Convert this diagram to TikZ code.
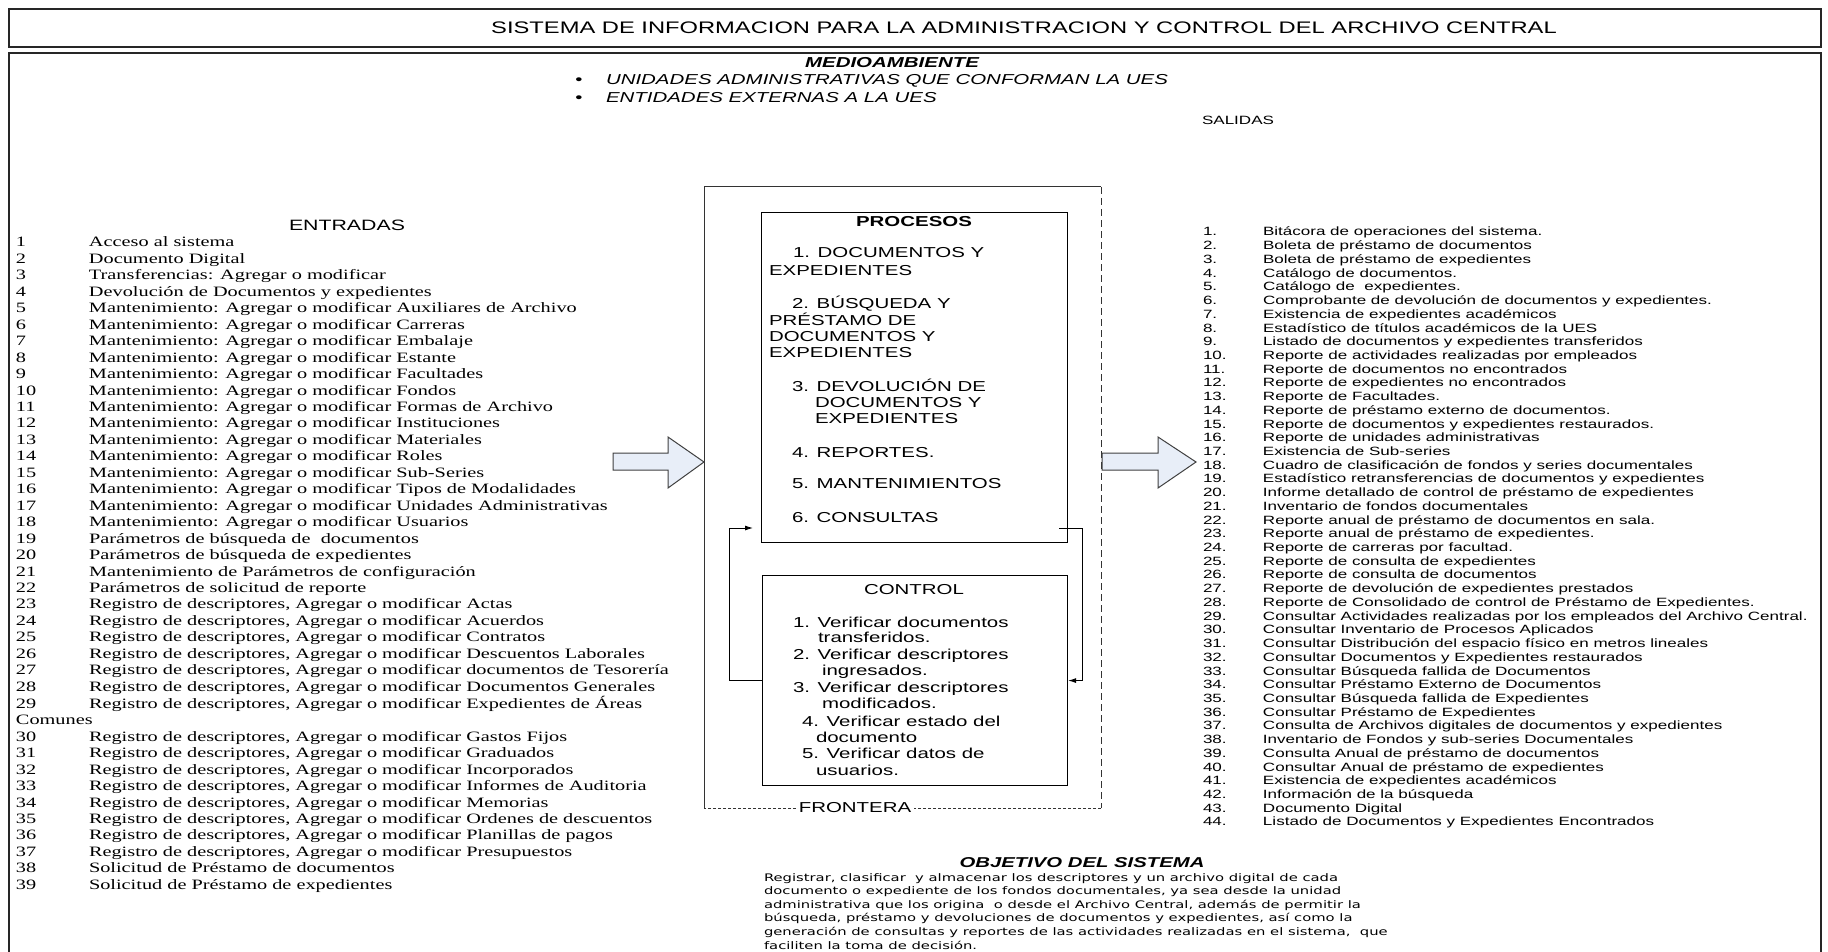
\documentclass[tikz,border=0pt]{standalone}
\usepackage{fontspec}
\setmainfont{Liberation Serif}[FakeStretch=1.42]
\newfontfamily\arial{Liberation Sans}[FakeStretch=1.42]
\newfontfamily\parafont{DejaVu Sans}[FakeStretch=1.42]
\usetikzlibrary{arrows.meta}
\definecolor{arrowfill}{RGB}{232,238,248}
\newcommand\boxfont{\arial\fontsize{14.4}{16}\selectfont}
\tikzset{
  lbl/.style={inner sep=0pt, outer sep=0pt, font=\boxfont},
  framebox/.style={draw=black, line width=1.1pt},
  flow/.style={line width=0.9pt, -{Latex[length=8pt,width=5pt]}},
  bigarrow/.style={draw=black!75, line width=1pt, fill=arrowfill},
}
\begin{document}
\begin{tikzpicture}[x=1pt,y=-1pt]
\useasboundingbox (0,0) rectangle (1828,952);
\clip (0,0) rectangle (1828,952);

% outer frames
\draw[line width=1.5pt, draw=black!85] (9,9) rectangle (1821,47);
\draw[line width=1.5pt, draw=black!85] (9,53) rectangle (1821,1000);

\node[lbl, anchor=base, font={\arial\fontsize{16.7}{20}\selectfont}] (title) at (1024,34)
  {SISTEMA DE INFORMACION PARA LA ADMINISTRACION Y CONTROL DEL ARCHIVO CENTRAL};

% environment
\node[lbl, anchor=base, font={\arial\bfseries\itshape\fontsize{14.4}{16}\selectfont}] (medio) at (892,68) {MEDIOAMBIENTE};
\node[lbl, anchor=base] (b1) at (579,85) {•};
\node[lbl, anchor=base west, font={\arial\itshape\fontsize{14.4}{16}\selectfont}] (m1) at (606,85) {UNIDADES ADMINISTRATIVAS QUE CONFORMAN LA UES};
\node[lbl, anchor=base] (b2) at (579,103) {•};
\node[lbl, anchor=base west, font={\arial\itshape\fontsize{14.4}{16}\selectfont}] (m2) at (606,103) {ENTIDADES EXTERNAS A LA UES};

\node[lbl, anchor=base, font={\arial\fontsize{12}{14}\selectfont}] (salidas) at (1238,125) {SALIDAS};
\node[lbl, anchor=base, font={\arial\fontsize{15}{17}\selectfont}] (entradas) at (347,230) {ENTRADAS};

% inputs
\node[lbl, anchor=base west, font={\rmfamily\fontsize{14.3}{16.45}\selectfont}] (inlist) at (16,247) {%
\begin{tabular}[t]{@{}p{73pt}@{}l@{}}
1 & Acceso al sistema\\
2 & Documento Digital\\
3 & Transferencias: Agregar o modificar\\
4 & Devolución de Documentos y expedientes\\
5 & Mantenimiento: Agregar o modificar Auxiliares de Archivo\\
6 & Mantenimiento: Agregar o modificar Carreras\\
7 & Mantenimiento: Agregar o modificar Embalaje\\
8 & Mantenimiento: Agregar o modificar Estante\\
9 & Mantenimiento: Agregar o modificar Facultades\\
10 & Mantenimiento: Agregar o modificar Fondos\\
11 & Mantenimiento: Agregar o modificar Formas de Archivo\\
12 & Mantenimiento: Agregar o modificar Instituciones\\
13 & Mantenimiento: Agregar o modificar Materiales\\
14 & Mantenimiento: Agregar o modificar Roles\\
15 & Mantenimiento: Agregar o modificar Sub-Series\\
16 & Mantenimiento: Agregar o modificar Tipos de Modalidades\\
17 & Mantenimiento: Agregar o modificar Unidades Administrativas\\
18 & Mantenimiento: Agregar o modificar Usuarios\\
19 & Parámetros de búsqueda de~ documentos\\
20 & Parámetros de búsqueda de expedientes\\
21 & Mantenimiento de Parámetros de configuración\\
22 & Parámetros de solicitud de reporte\\
23 & Registro de descriptores, Agregar o modificar Actas\\
24 & Registro de descriptores, Agregar o modificar Acuerdos\\
25 & Registro de descriptores, Agregar o modificar Contratos\\
26 & Registro de descriptores, Agregar o modificar Descuentos Laborales\\
27 & Registro de descriptores, Agregar o modificar documentos de Tesorería\\
28 & Registro de descriptores, Agregar o modificar Documentos Generales\\
29 & Registro de descriptores, Agregar o modificar Expedientes de Áreas\\
\multicolumn{2}{@{}l@{}}{Comunes}\\
30 & Registro de descriptores, Agregar o modificar Gastos Fijos\\
31 & Registro de descriptores, Agregar o modificar Graduados\\
32 & Registro de descriptores, Agregar o modificar Incorporados\\
33 & Registro de descriptores, Agregar o modificar Informes de Auditoria\\
34 & Registro de descriptores, Agregar o modificar Memorias\\
35 & Registro de descriptores, Agregar o modificar Ordenes de descuentos\\
36 & Registro de descriptores, Agregar o modificar Planillas de pagos\\
37 & Registro de descriptores, Agregar o modificar Presupuestos\\
38 & Solicitud de Préstamo de documentos\\
39 & Solicitud de Préstamo de expedientes
\end{tabular}};

% outputs
\node[lbl, anchor=base west, font={\arial\fontsize{12}{13.72}\selectfont}] (outlist) at (1203,236) {%
\begin{tabular}[t]{@{}p{60pt}@{}l@{}}
1. & Bitácora de operaciones del sistema.\\
2. & Boleta de préstamo de documentos\\
3. & Boleta de préstamo de expedientes\\
4. & Catálogo de documentos.\\
5. & Catálogo de~ expedientes.\\
6. & Comprobante de devolución de documentos y expedientes.\\
7. & Existencia de expedientes académicos\\
8. & Estadístico de títulos académicos de la UES\\
9. & Listado de documentos y expedientes transferidos\\
10. & Reporte de actividades realizadas por empleados\\
11. & Reporte de documentos no encontrados\\
12. & Reporte de expedientes no encontrados\\
13. & Reporte de Facultades.\\
14. & Reporte de préstamo externo de documentos.\\
15. & Reporte de documentos y expedientes restaurados.\\
16. & Reporte de unidades administrativas\\
17. & Existencia de Sub-series\\
18. & Cuadro de clasificación de fondos y series documentales\\
19. & Estadístico retransferencias de documentos y expedientes\\
20. & Informe detallado de control de préstamo de expedientes\\
21. & Inventario de fondos documentales\\
22. & Reporte anual de préstamo de documentos en sala.\\
23. & Reporte anual de préstamo de expedientes.\\
24. & Reporte de carreras por facultad.\\
25. & Reporte de consulta de expedientes\\
26. & Reporte de consulta de documentos\\
27. & Reporte de devolución de expedientes prestados\\
28. & Reporte de Consolidado de control de Préstamo de Expedientes.\\
29. & Consultar Actividades realizadas por los empleados del Archivo Central.\\
30. & Consultar Inventario de Procesos Aplicados\\
31. & Consultar Distribución del espacio físico en metros lineales\\
32. & Consultar Documentos y Expedientes restaurados\\
33. & Consultar Búsqueda fallida de Documentos\\
34. & Consultar Préstamo Externo de Documentos\\
35. & Consultar Búsqueda fallida de Expedientes\\
36. & Consultar Préstamo de Expedientes\\
37. & Consulta de Archivos digitales de documentos y expedientes\\
38. & Inventario de Fondos y sub-series Documentales\\
39. & Consulta Anual de préstamo de documentos\\
40. & Consultar Anual de préstamo de expedientes\\
41. & Existencia de expedientes académicos\\
42. & Información de la búsqueda\\
43. & Documento Digital\\
44. & Listado de Documentos y Expedientes Encontrados
\end{tabular}};

% system boundary
\coordinate (fNW) at (704,187);
\coordinate (fNE) at (1101,187);
\coordinate (fSE) at (1101,808);
\coordinate (fSW) at (704,808);
\draw[line width=1pt, draw=black!80] (fSW) -- (fNW) -- (fNE);
\draw[line width=1pt, draw=black!80, dash pattern=on 7pt off 4pt] (fNE) -- (fSE);
\draw[line width=1pt, draw=black!80, dash pattern=on 3pt off 2pt] (fSE) -- (fSW);
\node[lbl, fill=white, inner xsep=3pt] (frontera) at (855,808) {FRONTERA};

% input / output arrows
\draw[bigarrow] (613,453) -- (668,453) -- (668,437) -- (704,462) -- (668,488) -- (668,470) -- (613,470) -- cycle;
\draw[bigarrow] (1102,453) -- (1158,453) -- (1158,437) -- (1196,462) -- (1158,488) -- (1158,470) -- (1102,470) -- cycle;

% processes
\node[framebox, minimum width=306pt, minimum height=330pt, anchor=north west, inner sep=0pt] (procesos) at (761,212) {};
\node[lbl, anchor=base, font={\arial\bfseries\fontsize{14.4}{16}\selectfont}] (ptitle) at (914,226) {PROCESOS};
\node[lbl, anchor=base west] (p1a) at (793,258) {1. DOCUMENTOS Y};
\node[lbl, anchor=base west] (p1b) at (769,275) {EXPEDIENTES};
\node[lbl, anchor=base west] (p2a) at (792,308) {2. BÚSQUEDA Y};
\node[lbl, anchor=base west] (p2b) at (769,325) {PRÉSTAMO DE};
\node[lbl, anchor=base west] (p2c) at (769,341) {DOCUMENTOS Y};
\node[lbl, anchor=base west] (p2d) at (769,357) {EXPEDIENTES};
\node[lbl, anchor=base west] (p3a) at (792,391) {3. DEVOLUCIÓN DE};
\node[lbl, anchor=base west] (p3b) at (815,407) {DOCUMENTOS Y};
\node[lbl, anchor=base west] (p3c) at (815,423) {EXPEDIENTES};
\node[lbl, anchor=base west] (p4) at (792,457) {4. REPORTES.};
\node[lbl, anchor=base west] (p5) at (792,488) {5. MANTENIMIENTOS};
\node[lbl, anchor=base west] (p6) at (792,522) {6. CONSULTAS};

% control
\node[framebox, minimum width=305pt, minimum height=210pt, anchor=north west, inner sep=0pt] (control) at (762,575) {};
\node[lbl, anchor=base] (ctitle) at (914,594) {CONTROL};
\node[lbl, anchor=base west] (c1a) at (793,627) {1. Verificar documentos};
\node[lbl, anchor=base west] (c1b) at (818,642) {transferidos.};
\node[lbl, anchor=base west] (c2a) at (793,659) {2. Verificar descriptores};
\node[lbl, anchor=base west] (c2b) at (822,675) {ingresados.};
\node[lbl, anchor=base west] (c3a) at (793,692) {3. Verificar descriptores};
\node[lbl, anchor=base west] (c3b) at (822,708) {modificados.};
\node[lbl, anchor=base west] (c4a) at (802,726) {4. Verificar estado del};
\node[lbl, anchor=base west] (c4b) at (816,742) {documento};
\node[lbl, anchor=base west] (c5a) at (802,758) {5. Verificar datos de};
\node[lbl, anchor=base west] (c5b) at (816,775) {usuarios.};

% feedback loop between processes and control
\coordinate (pout) at (1059,528);
\coordinate (pin) at (753,528);
\draw[flow] (pout) -- ++(23,0) |- (control.east);
\draw[flow] (control.west) -- ++(-33,0) |- (pin);

% objective
\node[lbl, anchor=base, font={\arial\bfseries\itshape\fontsize{14.3}{16}\selectfont}] (objt) at (1082,867) {OBJETIVO DEL SISTEMA};
\node[lbl, anchor=base west, font={\parafont\fontsize{10.4}{13.6}\selectfont}] (objp) at (764,881) {%
\begin{tabular}[t]{@{}l@{}}
Registrar, clasificar~ y almacenar los descriptores y un archivo digital de cada\\
documento o expediente de los fondos documentales, ya sea desde la unidad\\
administrativa que los origina~ o desde el Archivo Central, además de permitir la\\
búsqueda, préstamo y devoluciones de documentos y expedientes, así como la\\
generación de consultas y reportes de las actividades realizadas en el sistema,~ que\\
faciliten la toma de decisión.
\end{tabular}};
\end{tikzpicture}
\end{document}
